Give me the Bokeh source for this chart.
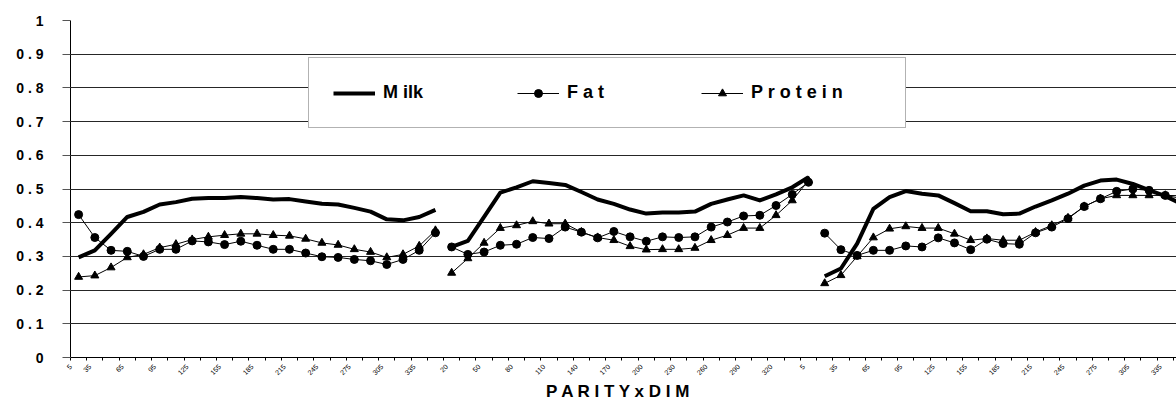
import math
from bokeh.plotting import figure
from bokeh.models import (Range1d, FixedTicker, Legend, LegendItem, ColumnDataSource)
from bokeh.embed import file_html
from bokeh.resources import INLINE

# ---------------- data ----------------
parities = [1, 2, 3]
dim_days = [5, 20, 35, 50, 65, 80, 95, 110, 125, 140, 155, 170,
            185, 200, 215, 230, 245, 260, 275, 290, 305, 320, 335]

milk_p1 = [0.297, 0.318, 0.367, 0.417, 0.432, 0.454, 0.461, 0.471, 0.473, 0.473, 0.476, 0.473,
           0.469, 0.470, 0.463, 0.456, 0.454, 0.444, 0.433, 0.410, 0.407, 0.417, 0.438]
milk_p2 = [0.328, 0.346, 0.417, 0.489, 0.505, 0.523, 0.518, 0.512, 0.491, 0.469, 0.456, 0.439,
           0.427, 0.430, 0.430, 0.433, 0.456, 0.469, 0.481, 0.466, 0.484, 0.505, 0.535]
milk_p3 = [0.241, 0.264, 0.338, 0.441, 0.476, 0.494, 0.486, 0.481, 0.458, 0.434, 0.434, 0.425,
           0.427, 0.448, 0.466, 0.486, 0.510, 0.525, 0.528, 0.515, 0.497, 0.479, 0.456]

fat_p1 = [0.424, 0.356, 0.318, 0.315, 0.300, 0.321, 0.321, 0.346, 0.343, 0.335, 0.345, 0.333,
          0.321, 0.321, 0.310, 0.299, 0.297, 0.291, 0.287, 0.276, 0.291, 0.318, 0.370]
fat_p2 = [0.328, 0.306, 0.313, 0.333, 0.336, 0.356, 0.353, 0.387, 0.372, 0.355, 0.374, 0.358,
          0.345, 0.358, 0.356, 0.358, 0.387, 0.402, 0.420, 0.422, 0.451, 0.484, 0.520]
fat_p3 = [0.369, 0.320, 0.303, 0.318, 0.318, 0.331, 0.328, 0.355, 0.340, 0.320, 0.351, 0.338,
          0.336, 0.370, 0.387, 0.412, 0.448, 0.471, 0.493, 0.500, 0.496, 0.481, 0.472]

protein_p1 = [0.239, 0.243, 0.267, 0.297, 0.306, 0.326, 0.336, 0.350, 0.358, 0.363, 0.367, 0.367,
              0.363, 0.361, 0.352, 0.340, 0.334, 0.321, 0.313, 0.297, 0.306, 0.331, 0.377]
protein_p2 = [0.251, 0.294, 0.340, 0.384, 0.392, 0.404, 0.397, 0.397, 0.372, 0.356, 0.348, 0.330,
              0.320, 0.321, 0.321, 0.325, 0.348, 0.363, 0.384, 0.384, 0.422, 0.466, 0.525]
protein_p3 = [0.220, 0.244, 0.300, 0.356, 0.382, 0.389, 0.384, 0.384, 0.367, 0.348, 0.353, 0.348,
              0.348, 0.372, 0.392, 0.414, 0.448, 0.471, 0.481, 0.481, 0.481, 0.481, 0.480]

y_ticks = [0, 0.1, 0.2, 0.3, 0.4, 0.5, 0.6, 0.7, 0.8, 0.9, 1]
y_tick_labels = ["0", "0 . 1", "0 . 2", "0 . 3", "0 . 4", "0 . 5",
                 "0 . 6", "0 . 7", "0 . 8", "0 . 9", "1"]

series_labels = ["M ilk", "F a t", "P r o t e i n"]
x_title = "P A R I T Y  x  D I M"

milk = [milk_p1, milk_p2, milk_p3]
fat = [fat_p1, fat_p2, fat_p3]
protein = [protein_p1, protein_p2, protein_p3]

# categories: (parity, day) in order
categories = [(par, d) for par in parities for d in dim_days]
n_cat = len(categories)

FONT = "Liberation Sans"

p = figure(width=1176, height=405, output_backend="svg", toolbar_location=None,
           x_range=Range1d(0, 68.19), y_range=Range1d(0, 1),
           min_border_left=70, min_border_right=0, min_border_top=20,
           min_border_bottom=48)
p.outline_line_color = None
p.background_fill_color = "white"
p.border_fill_color = "white"

# y axis
p.yaxis.ticker = FixedTicker(ticks=y_ticks)
p.yaxis.major_label_overrides = dict(zip(y_ticks, y_tick_labels))
p.yaxis.major_label_text_font = FONT
p.yaxis.major_label_text_font_style = "bold"
p.yaxis.major_label_text_font_size = "14px"
p.yaxis.major_label_text_color = "black"
p.yaxis.major_tick_in = 0
p.yaxis.major_tick_out = 8
p.yaxis.major_tick_line_color = "#555555"
p.yaxis.minor_tick_line_color = None
p.yaxis.axis_line_color = "black"
p.yaxis.major_label_standoff = 19

# x axis: tick marks (minor) at category boundaries, labels on every 2nd category
lab_idx = [i for i in range(n_cat) if i % 2 == 0]
lab_pos = [max(i - 0.8, 0.02) for i in lab_idx]
lab_txt = [str(categories[i][1]) for i in lab_idx]
p.xaxis.ticker = FixedTicker(ticks=lab_pos, minor_ticks=list(range(0, n_cat)))
p.xaxis.major_label_overrides = dict(zip(lab_pos, lab_txt))
# 45 degrees (pi/4 + 14*pi, so a full-turn equivalent of pi/4)
p.xaxis.major_label_orientation = math.pi / 4 + 14 * math.pi
p.xaxis.major_label_text_font = FONT
p.xaxis.major_label_text_font_size = "7px"
p.xaxis.major_label_text_color = "black"
p.xaxis.major_label_standoff = 5
p.xaxis.major_tick_in = 0
p.xaxis.major_tick_out = 0
p.xaxis.minor_tick_in = 0
p.xaxis.minor_tick_out = 3
p.xaxis.minor_tick_line_color = "black"
p.xaxis.axis_line_color = "black"
p.xaxis.axis_label = x_title
p.xaxis.axis_label_text_font = FONT
p.xaxis.axis_label_text_font_style = "bold"
p.xaxis.axis_label_text_font_size = "17px"
p.xaxis.axis_label_text_color = "black"
p.xaxis.axis_label_standoff = 2

p.xgrid.visible = False
p.ygrid.ticker = FixedTicker(ticks=y_ticks)
p.ygrid.grid_line_color = "#262626"
p.ygrid.grid_line_width = 1

# series
milk_r, fat_l, fat_s, prot_l, prot_s = [], [], [], [], []
for k in range(len(parities)):
    start = k * len(dim_days)
    xs = [start + j + 0.5 for j in range(len(dim_days))]
    src = ColumnDataSource(dict(x=xs, milk=milk[k], fat=fat[k], protein=protein[k]))
    prot_l.append(p.line("x", "protein", source=src, line_color="black", line_width=1))
    prot_s.append(p.scatter("x", "protein", source=src, marker="triangle", size=8,
                            fill_color="black", line_color="black"))
    fat_l.append(p.line("x", "fat", source=src, line_color="black", line_width=1))
    fat_s.append(p.scatter("x", "fat", source=src, marker="circle", size=8,
                           fill_color="black", line_color="black"))
    milk_r.append(p.line("x", "milk", source=src, line_color="black", line_width=4,
                         line_join="round"))

legend = Legend(items=[
    LegendItem(label=series_labels[0], renderers=[milk_r[0]]),
    LegendItem(label=series_labels[1], renderers=[fat_l[0], fat_s[0]]),
    LegendItem(label=series_labels[2], renderers=[prot_l[0], prot_s[0]]),
], orientation="horizontal", location=(238, 229), padding=24, spacing=4,
    glyph_width=42, glyph_height=20, label_standoff=8, label_width=130,
    label_text_font=FONT, label_text_font_style="bold", label_text_font_size="18px",
    label_text_color="black",
    border_line_color="#666666", border_line_width=1.5,
    background_fill_color="white", background_fill_alpha=1.0,
    margin=0)
p.add_layout(legend)

open("out.html", "w").write(file_html(p, INLINE))
